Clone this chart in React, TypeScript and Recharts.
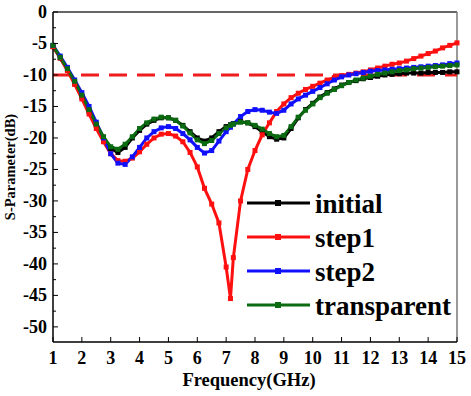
import React from "react";
import { LineChart, Line, XAxis, YAxis, ReferenceLine, Legend } from "recharts";

// frequency points (GHz)
const freq = [
  1, 1.25, 1.5, 1.75, 2, 2.25, 2.5, 2.75, 3, 3.25, 3.5, 3.75, 4, 4.25, 4.5, 4.75, 5, 5.25, 5.5, 5.75,
  6, 6.25, 6.5, 6.75, 7, 7.15, 7.25, 7.5, 7.75, 8, 8.25, 8.5, 8.75, 9, 9.25, 9.5, 9.75, 10, 10.25, 10.5,
  10.75, 11, 11.25, 11.5, 11.75, 12, 12.25, 12.5, 12.75, 13, 13.25, 13.5, 13.75, 14, 14.25, 14.5, 14.75, 15,
];

const initial = [
  -5.5, -7.3, -9.2, -11.3, -13.5, -15.8, -18, -20, -21.7, -22.3, -21.5, -20, -18.8, -17.8, -17.2, -16.8, -16.8, -17.2, -18, -19,
  -20, -20.5, -20, -19, -18.2, -17.9, -17.7, -17.4, -17.6, -18.2, -19, -19.8, -20.2, -20, -18.5, -16.8, -15.5, -14.5, -13.5, -12.8,
  -12.2, -11.6, -11.2, -10.9, -10.6, -10.4, -10.2, -10, -9.9, -9.8, -9.7, -9.7, -9.7, -9.6, -9.6, -9.6, -9.5, -9.5,
];

const step1 = [
  -5.5, -7.3, -9.3, -11.5, -13.8, -16.2, -18.5, -20.6, -22.5, -23.6, -23.7, -23.2, -22.2, -21, -20, -19.4, -19.3, -19.7, -20.6, -22.3,
  -24.6, -28, -30.5, -33.5, -40.5, -45.5, -39, -30, -25, -22, -19.5, -17.6, -15.8, -14.6, -13.6, -12.9, -12.3, -11.8, -11.3, -10.8,
  -10.4, -10.1, -9.9, -9.7, -9.5, -9.2, -8.9, -8.6, -8.3, -8.1, -7.8, -7.4, -7, -6.6, -6.2, -5.7, -5.3, -4.9,
];

const step2 = [
  -5.3, -7, -8.8, -10.8, -12.8, -15, -17.5, -20, -22.5, -24, -24.2, -23, -21.5, -20, -19, -18.4, -18.2, -18.5, -19.3, -20.3,
  -21.5, -22.4, -22, -20.5, -19, -18.3, -17.8, -16.6, -15.8, -15.5, -15.6, -15.9, -16.1, -15.6, -14.6, -13.8, -13.2, -12.6, -12, -11.4,
  -10.8, -10.3, -10, -9.8, -9.6, -9.4, -9.3, -9.2, -9.1, -9, -8.9, -8.8, -8.7, -8.6, -8.5, -8.4, -8.2, -8.1,
];

const transparent = [
  -5.3, -7.2, -9, -11, -13.2, -15.5, -17.8, -19.8, -21.4, -21.8, -21, -19.8, -18.5, -17.6, -17, -16.7, -16.8, -17.2, -18.1, -19.2,
  -20.3, -20.9, -20.4, -19.3, -18.4, -18, -17.8, -17.5, -17.6, -18, -18.6, -19.3, -19.8, -19.6, -18.2, -16.7, -15.6, -14.6, -13.6, -12.9,
  -12.3, -11.7, -11.2, -10.8, -10.5, -10.2, -9.9, -9.7, -9.5, -9.3, -9.2, -9, -8.9, -8.8, -8.7, -8.6, -8.5, -8.4,
];

const xTicks = [1, 2, 3, 4, 5, 6, 7, 8, 9, 10, 11, 12, 13, 14, 15];
const yTicks = [0, -2.5, -5, -7.5, -10, -12.5, -15, -17.5, -20, -22.5, -25, -27.5, -30, -32.5, -35, -37.5, -40, -42.5, -45, -47.5, -50];

const data = freq.map((f, i) => ({
  f,
  initial: initial[i],
  step1: step1[i],
  step2: step2[i],
  transparent: transparent[i],
}));

const FONT = "'Liberation Serif', 'Times New Roman', serif";

const squareDot = (color: string) => (props: any) => {
  const { cx, cy, index } = props;
  if (cx == null || cy == null) return <g key={`d-${index}`} />;
  return <rect key={`d-${index}`} x={cx - 2.5} y={cy - 2.5} width={5} height={5} fill={color} />;
};

const XTick = (props: any) => {
  const { x, y, payload } = props;
  return (
    <g>
      <line x1={x} x2={x} y1={y} y2={y - 5} stroke="#000" strokeWidth={1} />
      <text x={x} y={y + 22} textAnchor="middle" fontFamily={FONT} fontWeight="bold" fontSize={18} fill="#000">
        {payload.value}
      </text>
    </g>
  );
};

const YTick = (props: any) => {
  const { x, y, payload } = props;
  const v = payload.value as number;
  const major = v % 5 === 0;
  return (
    <g>
      <line x1={x} x2={x + (major ? 5 : 3)} y1={y} y2={y} stroke="#000" strokeWidth={1} />
      {major && (
        <text x={x - 6} y={y + 6} textAnchor="end" fontFamily={FONT} fontWeight="bold" fontSize={18} fill="#000">
          {v}
        </text>
      )}
    </g>
  );
};

const renderLegend = (props: any) => {
  const { payload } = props;
  return (
    <svg width={230} height={140}>
      {(payload || []).map((entry: any, i: number) => {
        const y = 18 + i * 34;
        return (
          <g key={entry.value}>
            <line x1={7} x2={70} y1={y} y2={y} stroke={entry.color} strokeWidth={3} />
            <rect x={35} y={y - 3} width={6} height={6} fill={entry.color} />
            <text x={75} y={y + 9.5} fontFamily={FONT} fontWeight="bold" fontSize={27} fill="#000">
              {entry.value}
            </text>
          </g>
        );
      })}
    </svg>
  );
};

export default function App() {
  return (
    <div style={{ position: "absolute", left: 0, top: 0, width: 471, height: 396, background: "#fff" }}>
      <LineChart width={471} height={396} data={data} margin={{ top: 12, right: 14, bottom: 0, left: 8 }}>
        <XAxis
          dataKey="f"
          type="number"
          domain={[1, 15]}
          ticks={xTicks}
          interval={0}
          height={54}
          tickSize={0}
          tickMargin={0}
          tickLine={false}
          tick={XTick}
          axisLine={{ stroke: "#000", strokeWidth: 1.5 }}
          label={{
            content: () => (
              <text x={249} y={386} textAnchor="middle" fontFamily={FONT} fontWeight="bold" fontSize={18.5} fill="#000">
                Frequency(GHz)
              </text>
            ),
          }}
        />
        <YAxis
          type="number"
          domain={[-52.4, 0]}
          ticks={yTicks}
          interval={0}
          width={45}
          tickSize={0}
          tickMargin={0}
          tickLine={false}
          tick={YTick}
          allowDataOverflow
          axisLine={{ stroke: "#000", strokeWidth: 1.5 }}
          label={{
            content: () => (
              <text
                transform="translate(10,167) rotate(-90)"
                textAnchor="middle"
                dominantBaseline="central"
                fontFamily={FONT}
                fontWeight="bold"
                fontSize={14.5}
                fill="#000"
              >
                S-Parameter(dB)
              </text>
            ),
          }}
        />
        <ReferenceLine y={0} stroke="#333" strokeWidth={1.5} />
        <ReferenceLine x={15} stroke="#777" strokeWidth={1.5} />
        <ReferenceLine y={-10} stroke="#ee1c1c" strokeWidth={3} strokeDasharray="18 10" />
        <Legend
          layout="vertical"
          align="center"
          verticalAlign="middle"
          content={renderLegend}
          wrapperStyle={{ left: 240, top: 185, width: 230, height: 140 }}
        />
        <Line dataKey="initial" name="initial" stroke="#000000" strokeWidth={3} dot={squareDot("#000000")} isAnimationActive={false} />
        <Line dataKey="step1" name="step1" stroke="#ff1010" strokeWidth={3} dot={squareDot("#ff1010")} isAnimationActive={false} />
        <Line dataKey="step2" name="step2" stroke="#1010ff" strokeWidth={3} dot={squareDot("#1010ff")} isAnimationActive={false} />
        <Line dataKey="transparent" name="transparent" stroke="#0b6b10" strokeWidth={3} dot={squareDot("#0b6b10")} isAnimationActive={false} />
      </LineChart>
    </div>
  );
}
